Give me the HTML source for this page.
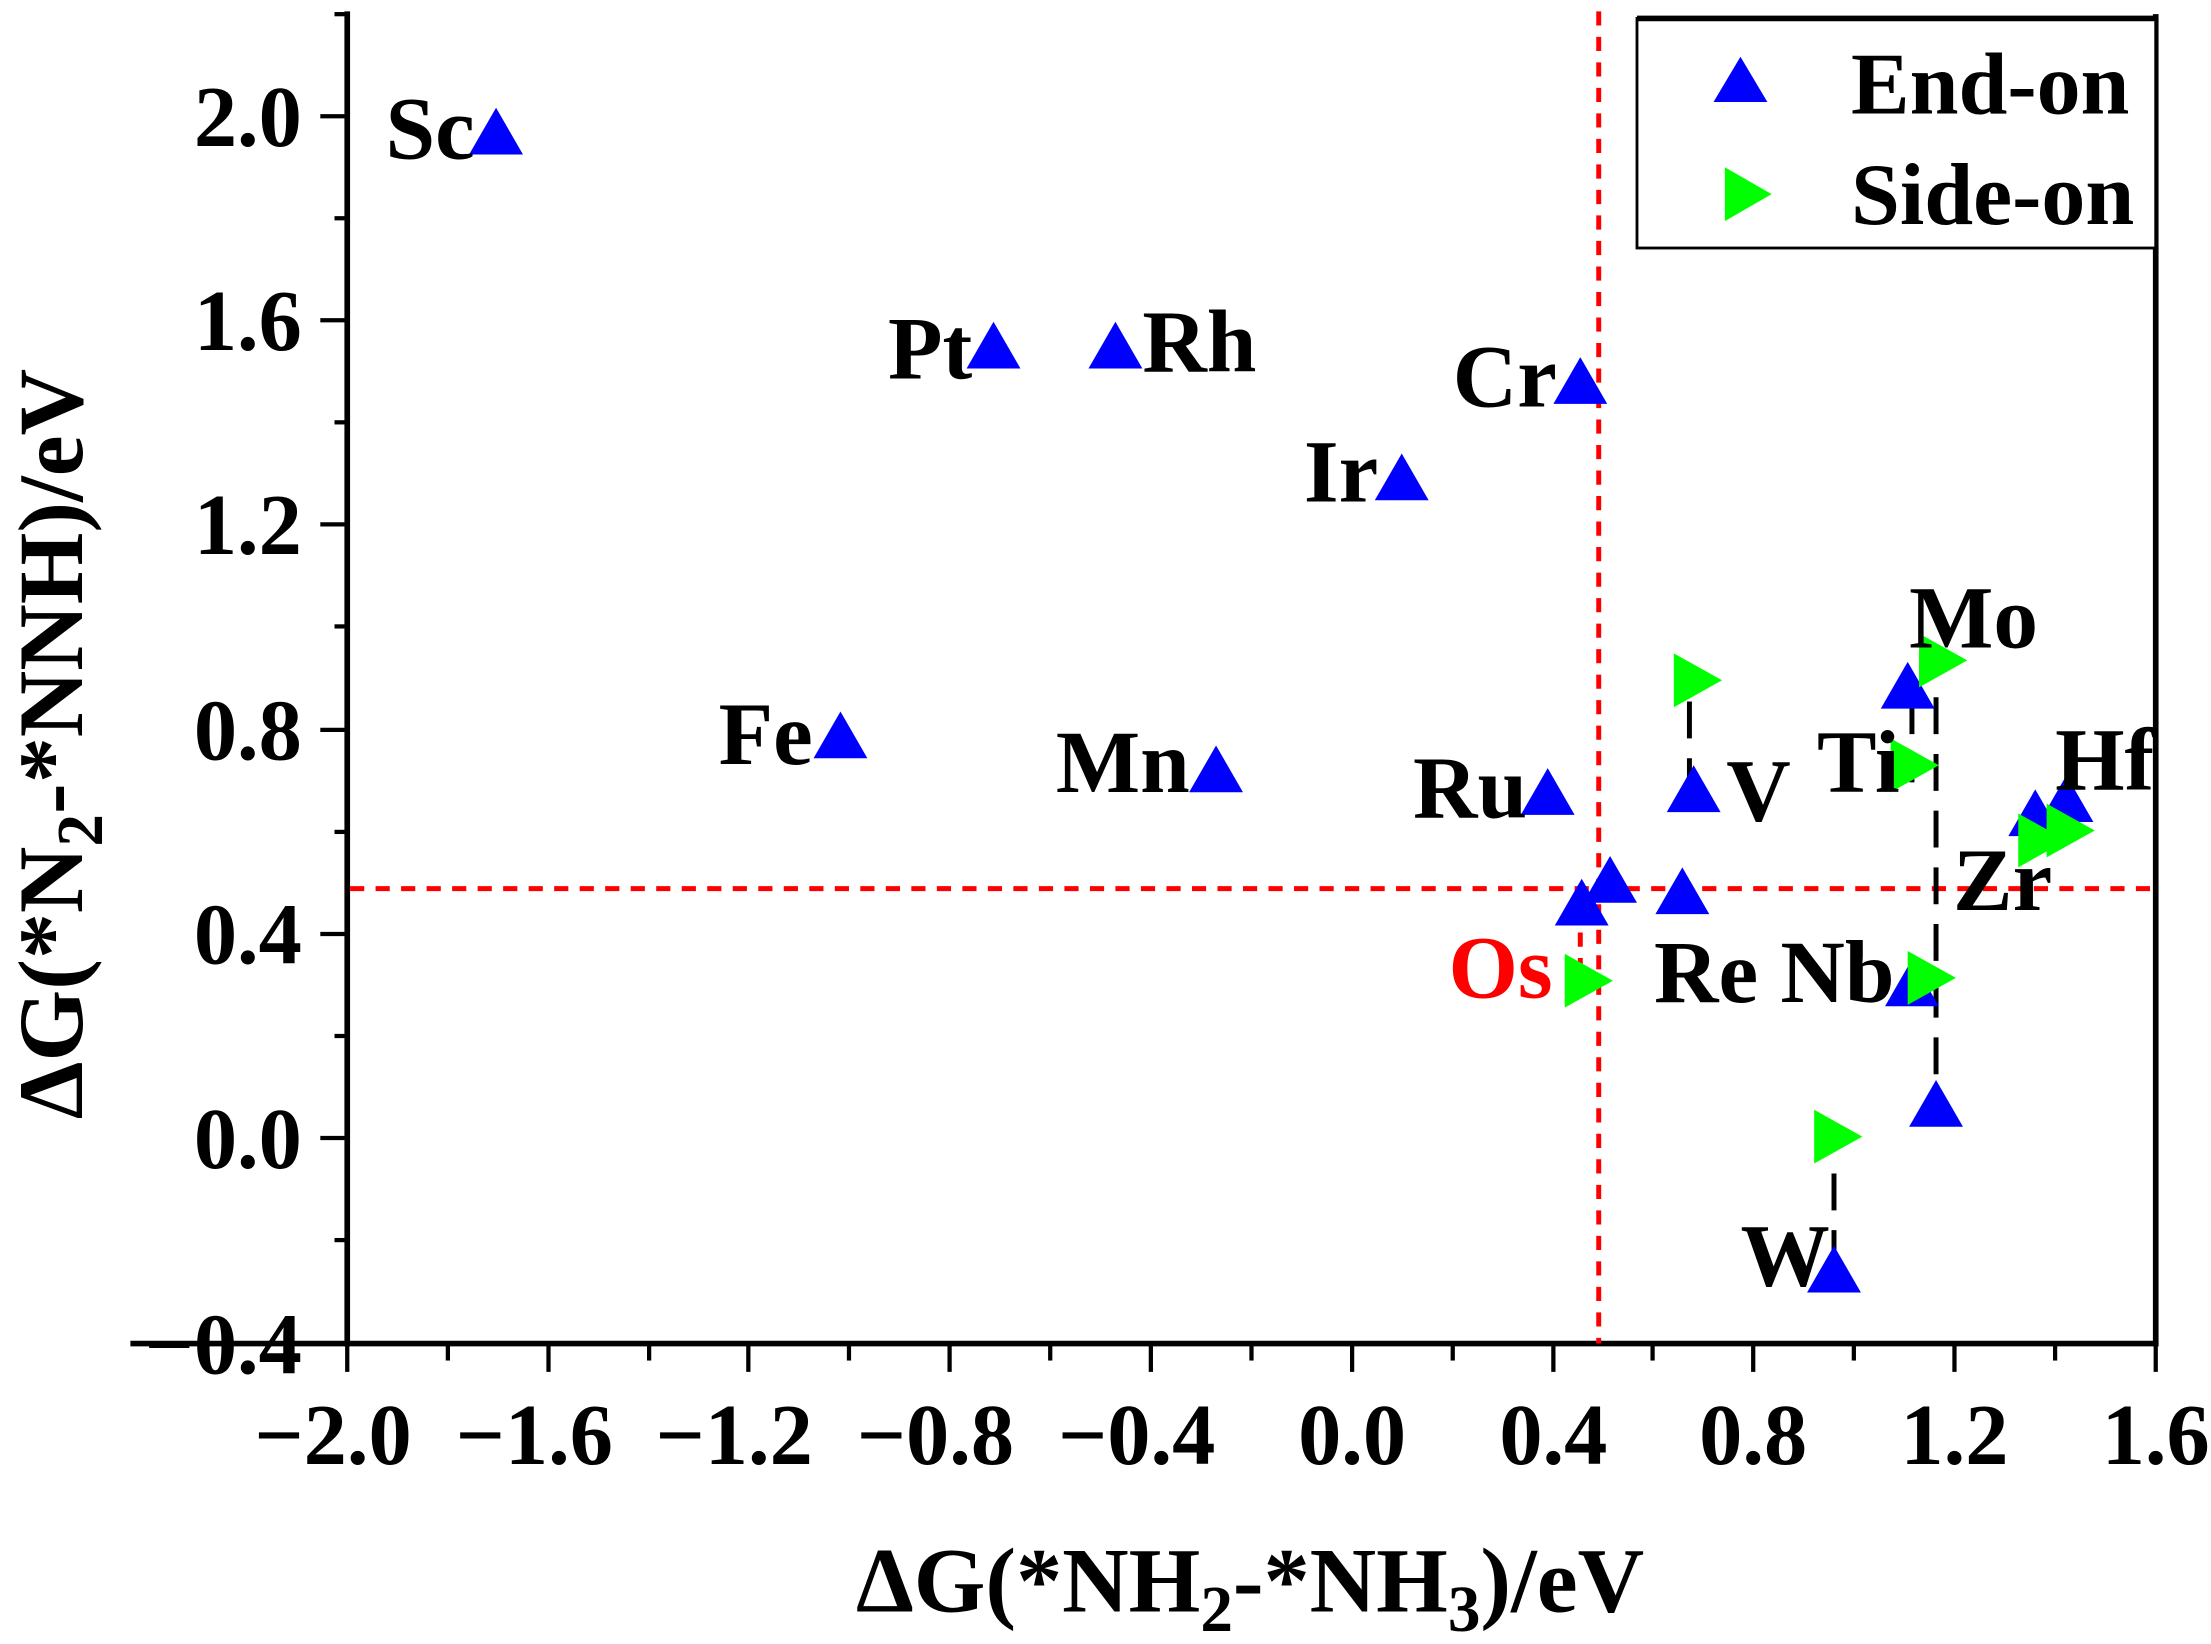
<!DOCTYPE html>
<html><head><meta charset="utf-8"><style>
html,body{margin:0;padding:0;background:#fff;}
svg{display:block;}
text{font-family:"Liberation Serif",serif;font-weight:bold;}
</style></head><body>
<svg width="2211" height="1644" viewBox="0 0 1560 1160" preserveAspectRatio="none" xmlns="http://www.w3.org/2000/svg">
<defs>
<polygon id="up" points="0,-18 19,15 -19,15" fill="#0000ff"/>
<polygon id="rt" points="-16,-19 18,0 -16,19" fill="#00ff00"/>
</defs>
<g stroke="#000" stroke-width="4" fill="none">
<line x1="245" y1="8" x2="245" y2="950"/>
<line x1="243" y1="948" x2="1523" y2="948"/>
<line x1="1521" y1="10" x2="1521" y2="950"/>
<line x1="92" y1="948" x2="245" y2="948"/>
</g>
<g stroke="#000" stroke-width="3">
<line x1="245" y1="948" x2="245" y2="968"/><line x1="387" y1="948" x2="387" y2="968"/><line x1="528" y1="948" x2="528" y2="968"/><line x1="670" y1="948" x2="670" y2="968"/><line x1="812" y1="948" x2="812" y2="968"/><line x1="954" y1="948" x2="954" y2="968"/><line x1="1096" y1="948" x2="1096" y2="968"/><line x1="1237" y1="948" x2="1237" y2="968"/><line x1="1379" y1="948" x2="1379" y2="968"/><line x1="1521" y1="948" x2="1521" y2="968"/>
<line x1="316" y1="948" x2="316" y2="960"/><line x1="458" y1="948" x2="458" y2="960"/><line x1="599" y1="948" x2="599" y2="960"/><line x1="741" y1="948" x2="741" y2="960"/><line x1="883" y1="948" x2="883" y2="960"/><line x1="1025" y1="948" x2="1025" y2="960"/><line x1="1166" y1="948" x2="1166" y2="960"/><line x1="1308" y1="948" x2="1308" y2="960"/><line x1="1450" y1="948" x2="1450" y2="960"/>
<line x1="226" y1="82" x2="245" y2="82"/><line x1="226" y1="226" x2="245" y2="226"/><line x1="226" y1="370" x2="245" y2="370"/><line x1="226" y1="515" x2="245" y2="515"/><line x1="226" y1="659" x2="245" y2="659"/><line x1="226" y1="803" x2="245" y2="803"/>
<line x1="236" y1="10" x2="245" y2="10"/><line x1="236" y1="154" x2="245" y2="154"/><line x1="236" y1="298" x2="245" y2="298"/><line x1="236" y1="442" x2="245" y2="442"/><line x1="236" y1="587" x2="245" y2="587"/><line x1="236" y1="731" x2="245" y2="731"/><line x1="236" y1="875" x2="245" y2="875"/>
</g>
<g font-size="61" text-anchor="end">
<text x="213" y="103">2.0</text><text x="213" y="247">1.6</text><text x="213" y="391">1.2</text><text x="213" y="536">0.8</text><text x="213" y="680">0.4</text><text x="213" y="824">0.0</text><text x="213" y="969">−0.4</text>
</g>
<g font-size="61" text-anchor="middle">
<text x="235" y="1033">−2.0</text><text x="377" y="1033">−1.6</text><text x="518" y="1033">−1.2</text><text x="660" y="1033">−0.8</text><text x="802" y="1033">−0.4</text><text x="954" y="1033">0.0</text><text x="1096" y="1033">0.4</text><text x="1237" y="1033">0.8</text><text x="1379" y="1033">1.2</text><text x="1521" y="1033">1.6</text>
</g>
<text x="882" y="1137" font-size="65" text-anchor="middle">ΔG(*NH<tspan font-size="46" dy="14">2</tspan><tspan dy="-14">-*NH</tspan><tspan font-size="46" dy="14">3</tspan><tspan dy="-14">)/eV</tspan></text>
<text transform="translate(58,525) rotate(-90)" font-size="65" text-anchor="middle">ΔG(*N<tspan font-size="46" dy="14">2</tspan><tspan dy="-14">-*NNH)/eV</tspan></text>
<g stroke="#ff0000" stroke-width="3.5" stroke-dasharray="10,8" fill="none">
<line x1="1128" y1="8" x2="1128" y2="948"/>
<line x1="247" y1="627" x2="1519" y2="627"/>
<line x1="1115" y1="640" x2="1115" y2="702"/>
</g>
<g stroke="#000" stroke-width="3.5" stroke-dasharray="26,14" fill="none">
<line x1="1192" y1="495" x2="1192" y2="550"/>
<line x1="1366" y1="492" x2="1366" y2="790"/>
<line x1="1349" y1="492" x2="1349" y2="552"/>
<line x1="1294" y1="828" x2="1294" y2="895"/>
</g>
<use href="#up" x="350" y="94"/>
<use href="#up" x="701" y="245"/>
<use href="#up" x="787" y="245"/>
<use href="#up" x="1115" y="270"/>
<use href="#up" x="989" y="338"/>
<use href="#up" x="593" y="520"/>
<use href="#up" x="858" y="544"/>
<use href="#up" x="1092" y="560"/>
<use href="#up" x="1195" y="558"/>
<use href="#up" x="1346" y="485"/>
<use href="#up" x="1436" y="575"/>
<use href="#up" x="1458" y="565"/>
<use href="#up" x="1116" y="638"/>
<use href="#up" x="1136" y="622"/>
<use href="#up" x="1187" y="630"/>
<use href="#up" x="1349" y="695"/>
<use href="#up" x="1366" y="780"/>
<use href="#up" x="1294" y="897"/>
<use href="#rt" x="1197" y="480"/>
<use href="#rt" x="1370" y="466"/>
<use href="#rt" x="1350" y="540"/>
<use href="#rt" x="1440" y="593"/>
<use href="#rt" x="1460" y="586"/>
<use href="#rt" x="1120" y="692"/>
<use href="#rt" x="1362" y="690"/>
<use href="#rt" x="1296" y="802"/>
<g font-size="63">
<text x="272" y="112">Sc</text>
<text x="686" y="267" text-anchor="end">Pt</text>
<text x="806" y="262">Rh</text>
<text x="1025" y="287">Cr</text>
<text x="920" y="354">Ir</text>
<text x="507" y="539">Fe</text>
<text x="745" y="559">Mn</text>
<text x="997" y="577">Ru</text>
<text x="1218" y="579">V</text>
<text x="1347" y="457">Mo</text>
<text x="1282" y="559">Ti</text>
<text x="1450" y="557">Hf</text>
<text x="1378" y="642">Zr</text>
<text x="1167" y="707">Re Nb</text>
<text x="1228" y="907">W</text>
<text x="1022" y="704" fill="#ff0000">Os</text>
</g>
<rect x="1155" y="13" width="366" height="162" fill="#fff" stroke="#000" stroke-width="2"/>
<line x1="1155" y1="13" x2="1521" y2="13" stroke="#000" stroke-width="4"/>
<polygon points="1228,40 1247,72 1209,72" fill="#0000ff"/>
<polygon points="1217,118 1250,137 1217,156" fill="#00ff00"/>
<g font-size="62">
<text x="1306" y="80">End-on</text>
<text x="1306" y="158">Side-on</text>
</g>
</svg>
</body></html>
